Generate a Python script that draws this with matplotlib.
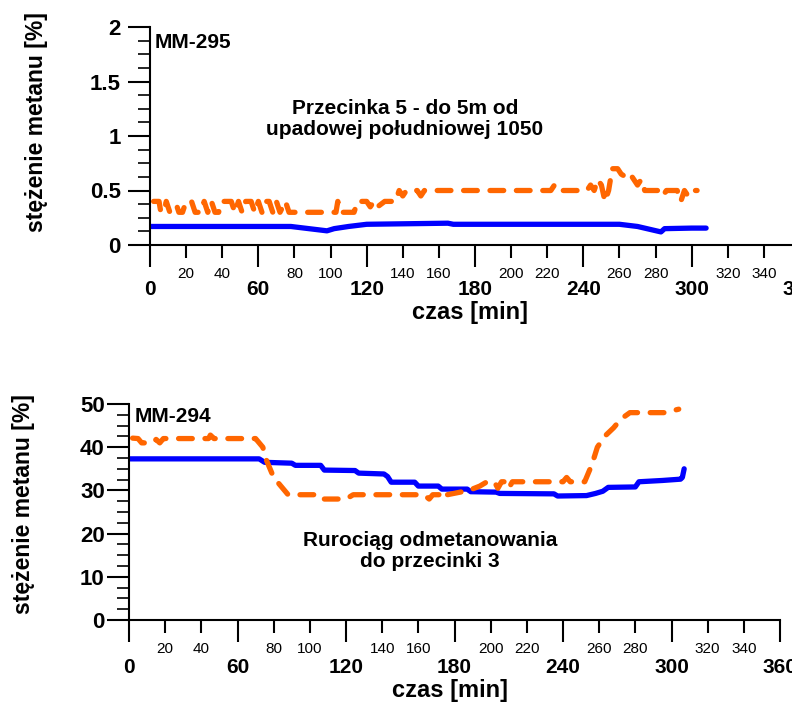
import matplotlib
matplotlib.use("Agg")
import matplotlib.pyplot as plt
from matplotlib.ticker import FixedLocator, MultipleLocator

plt.rcParams['font.family'] = ['Liberation Sans', 'DejaVu Sans']

# --- panel 1: MM-295, Przecinka 5 ---
t1_blue = [0, 78, 88, 98, 102, 110, 120, 165, 168, 260, 270, 283, 285, 300, 308]
v1_blue = [0.17, 0.17, 0.15, 0.13, 0.15, 0.17, 0.19, 0.20, 0.19, 0.19, 0.17, 0.12, 0.15, 0.155, 0.155]

t1_orange = [2, 5, 6, 8, 9, 11, 14, 15, 16, 18, 19, 22, 23, 25, 28, 30, 32, 34, 36, 38,
             40, 45, 47, 49, 51, 53, 56, 58, 60, 62, 64, 66, 68, 70, 72, 75, 77, 80, 92,
             97, 103, 104, 106, 110, 113, 115, 120, 122, 124, 126, 130, 136, 138, 140,
             142, 148, 150, 152, 222, 224, 226, 242, 244, 246, 248, 250, 252, 254, 256,
             259, 261, 264, 266, 268, 270, 272, 274, 282, 284, 286, 292, 294, 296, 298,
             300, 303]
v1_orange = [0.40, 0.40, 0.30, 0.32, 0.40, 0.30, 0.30, 0.35, 0.30, 0.30, 0.35, 0.35, 0.40,
             0.30, 0.30, 0.40, 0.30, 0.40, 0.30, 0.30, 0.40, 0.40, 0.30, 0.40, 0.30, 0.40,
             0.40, 0.30, 0.40, 0.30, 0.40, 0.40, 0.30, 0.40, 0.30, 0.40, 0.30, 0.30, 0.30,
             0.30, 0.30, 0.40, 0.30, 0.30, 0.30, 0.40, 0.40, 0.35, 0.40, 0.35, 0.40, 0.40,
             0.50, 0.45, 0.50, 0.50, 0.45, 0.50, 0.50, 0.55, 0.50, 0.50, 0.55, 0.50, 0.60,
             0.55, 0.40, 0.50, 0.70, 0.70, 0.65, 0.62, 0.65, 0.60, 0.55, 0.60, 0.50, 0.50,
             0.45, 0.50, 0.50, 0.40, 0.50, 0.45, 0.50, 0.50]
y1_ticks = [0, 0.5, 1, 1.5, 2]
y1_labels = ['0', '0.5', '1', '1.5', '2']

# --- panel 2: MM-294, Rurociag odmetanowania ---
t2_blue = [0, 72, 75, 90, 92, 106, 108, 125, 127, 141, 143, 145, 158, 160, 171, 173, 187,
           189, 203, 205, 235, 237, 253, 258, 262, 265, 280, 282, 295, 305, 306, 307]
v2_blue = [37.3, 37.3, 36.5, 36.3, 35.8, 35.8, 34.7, 34.6, 34.0, 33.8, 33.2, 31.9, 31.9,
           31.0, 31.0, 30.3, 30.3, 29.7, 29.6, 29.3, 29.2, 28.7, 28.8, 29.3, 29.8, 30.7,
           30.8, 32.0, 32.3, 32.6, 33.0, 35.0]

t2_orange = [2, 5, 7, 13, 15, 17, 19, 44, 45, 47, 70, 74, 76, 80, 84, 88, 104, 106, 120,
             124, 163, 166, 168, 172, 174, 176, 182, 188, 194, 198, 202, 204, 206, 208,
             210, 212, 240, 242, 244, 252, 256, 259, 263, 268, 272, 277, 297, 301, 304]
v2_orange = [42.1, 42, 41, 41, 41.8, 41, 42, 42, 42.8, 42, 42, 40, 37, 33, 31, 29, 29, 28,
             28, 29, 29, 28, 29, 29, 28, 29, 29.5, 30, 31, 32, 32, 30.5, 32, 32, 30.5, 32,
             32, 33, 32, 32, 36, 40, 42.5, 44.5, 46.5, 48, 48, 48.5, 48.8]
y2_ticks = [0, 10, 20, 30, 40, 50]
y2_labels = ['0', '10', '20', '30', '40', '50']

x_major = [0, 60, 120, 180, 240, 300, 360]
x_minor = [20, 40, 80, 100, 140, 160, 200, 220, 260, 280, 320, 340]

W, H = 792, 704
BLUE = '#0000ff'
ORANGE = '#ff6600'


def fx(px):
    return px / W


def fy(py):
    return 1 - py / H


fig = plt.figure(figsize=(W / 100, H / 100), dpi=100)
ax1 = fig.add_axes([fx(150), fy(245), (800 - 150) / W, (245 - 27) / H])
ax2 = fig.add_axes([fx(129), fy(620), (780 - 129) / W, (620 - 404) / H])


def style(ax, yticks, ylabels, ymin, ypad, maj_pad, min_pad):
    ax.set_xlim(0, 360)
    ax.set_ylim(yticks[0], yticks[-1])
    for s in ['top', 'right']:
        ax.spines[s].set_visible(False)
    for s in ['left', 'bottom']:
        ax.spines[s].set_linewidth(1.5)
    ax.xaxis.set_major_locator(FixedLocator(x_major))
    ax.xaxis.set_minor_locator(FixedLocator(x_minor))
    ax.set_xticklabels([str(v) for v in x_major], fontsize=15, fontweight='bold')
    ax.set_xticklabels([str(v) for v in x_minor], minor=True, fontsize=11)
    ax.yaxis.set_major_locator(FixedLocator(yticks))
    ax.yaxis.set_minor_locator(MultipleLocator(ymin))
    ax.set_yticklabels(ylabels, fontsize=16, fontweight='bold')
    ax.tick_params(axis='x', which='major', direction='out', length=16, width=1.5, pad=maj_pad)
    ax.tick_params(axis='x', which='minor', direction='out', length=9, width=1.5, pad=min_pad)
    ax.tick_params(axis='y', which='major', direction='out', length=16, width=1.5, pad=ypad)
    ax.tick_params(axis='y', which='minor', direction='out', length=9, width=1.2)


style(ax1, y1_ticks, y1_labels, 0.125, 5, 9.5, 6.5)
style(ax2, y2_ticks, y2_labels, 2.5, 1.5, 11.5, 7)

for ax, tb, vb, to, vo in [(ax1, t1_blue, v1_blue, t1_orange, v1_orange),
                           (ax2, t2_blue, v2_blue, t2_orange, v2_orange)]:
    ax.plot(tb, vb, color=BLUE, lw=3.8, solid_capstyle='round', solid_joinstyle='round')
    ax.plot(to, vo, color=ORANGE, lw=3.8, dashes=(2.6, 2.4), dash_capstyle='round',
            dash_joinstyle='round')

ylab = 'stężenie metanu [%]'
fig.text(fx(37), fy(122), ylab, rotation=90, ha='center', va='center',
         fontsize=16.5, fontweight='bold')
fig.text(fx(24), fy(504), ylab, rotation=90, ha='center', va='center',
         fontsize=16.5, fontweight='bold')
fig.text(fx(470), fy(313), 'czas [min]', ha='center', va='center',
         fontsize=17, fontweight='bold')
fig.text(fx(450), fy(690), 'czas [min]', ha='center', va='center',
         fontsize=17, fontweight='bold')

fig.text(fx(155), fy(42), 'MM-295', ha='left', va='center', fontsize=15, fontweight='bold')
fig.text(fx(135), fy(416), 'MM-294', ha='left', va='center', fontsize=15, fontweight='bold')
fig.text(fx(405), fy(119), 'Przecinka 5 - do 5m od\nupadowej południowej 1050',
         ha='center', va='center', fontsize=15, fontweight='bold', linespacing=1.15)
fig.text(fx(430), fy(551), 'Rurociąg odmetanowania\ndo przecinki 3',
         ha='center', va='center', fontsize=15, fontweight='bold', linespacing=1.15)

fig.savefig('out.png', dpi=100)
